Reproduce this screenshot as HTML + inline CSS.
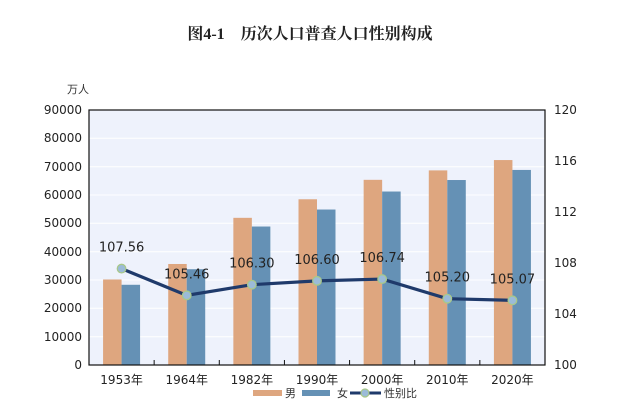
<!DOCTYPE html>
<html><head><meta charset="utf-8"><style>
html,body{margin:0;padding:0;background:#fff;width:621px;height:416px;overflow:hidden}
text{font-family:"DejaVu Sans","Liberation Sans","Noto Sans CJK SC",sans-serif}
</style></head><body>
<svg width="621" height="416" xmlns="http://www.w3.org/2000/svg">
<text x="310" y="39" text-anchor="middle" style="font-family:'Liberation Serif','Noto Serif CJK SC',serif;font-weight:bold" font-size="16" fill="#222">图4-1　历次人口普查人口性别构成</text>
<rect x="89" y="110" width="456" height="255" fill="#eef2fc"/>
<g stroke="#fff" stroke-width="1">
<line x1="89" x2="545" y1="138.3" y2="138.3"/><line x1="89" x2="545" y1="166.7" y2="166.7"/><line x1="89" x2="545" y1="195" y2="195"/><line x1="89" x2="545" y1="223.3" y2="223.3"/><line x1="89" x2="545" y1="251.7" y2="251.7"/><line x1="89" x2="545" y1="280" y2="280"/><line x1="89" x2="545" y1="308.3" y2="308.3"/><line x1="89" x2="545" y1="336.7" y2="336.7"/>
</g>
<g id="bars"></g>
<rect x="89" y="110" width="456" height="255" fill="none" stroke="#111" stroke-width="1.2"/>
<g font-size="12" fill="#222" text-anchor="end">
<text x="82" y="369">0</text><text x="82" y="341">10000</text><text x="82" y="312">20000</text><text x="82" y="284">30000</text><text x="82" y="256">40000</text><text x="82" y="227">50000</text><text x="82" y="199">60000</text><text x="82" y="171">70000</text><text x="82" y="142">80000</text><text x="82" y="114">90000</text>
</g>
<text x="67" y="93" font-size="11" fill="#333">万人</text>
<g font-size="12" fill="#222">
<text x="554" y="369">100</text><text x="554" y="318">104</text><text x="554" y="267">108</text><text x="554" y="216">112</text><text x="554" y="165">116</text><text x="554" y="114">120</text>
</g>
<g id="rest"></g>
<g font-size="11" fill="#333">
<rect x="253" y="390" width="29" height="6" fill="#dea67f"/><text x="285" y="397">男</text>
<rect x="302" y="390" width="28" height="6" fill="#6591b5"/><text x="337" y="397">女</text>
<line x1="350" x2="381" y1="393" y2="393" stroke="#1f3a6b" stroke-width="3"/>
<circle cx="365" cy="393" r="4" fill="#9bbbd8" stroke="#a8c88a" stroke-width="1.2"/><text x="384" y="397">性别比</text>
</g>
<script>
var d=[["1953",30180,28312,107.56],["1964",35652,33806,105.46],["1982",51944,48874,106.30],["1990",58495,54873,106.60],["2000",65355,61228,106.74],["2010",68685,65287,105.20],["2020",72334,68844,105.07]];
var ns="http://www.w3.org/2000/svg",b=document.getElementById("bars"),r=document.getElementById("rest");
function el(t,a,p,tx){var e=document.createElementNS(ns,t);for(var k in a)e.setAttribute(k,a[k]);if(tx)e.textContent=tx;p.appendChild(e);return e;}
var w=456/7,pts=[];
d.forEach(function(v,i){var c=89+w*(i+0.5);
var hm=v[1]*255/90000,hf=v[2]*255/90000;
el("rect",{x:c-18.5,y:365-hm,width:18.5,height:hm,fill:"#dea67f"},b);
el("rect",{x:c,y:365-hf,width:18.5,height:hf,fill:"#6591b5"},b);
if(i>0)el("line",{x1:89+w*i,x2:89+w*i,y1:365,y2:360,stroke:"#111"},r);
el("text",{x:c,y:384,"font-size":12,fill:"#222","text-anchor":"middle"},r,v[0]+"年");
var y=365-(v[3]-100)*12.75;pts.push([c,y]);});
el("polyline",{points:pts.map(function(p){return p.join(",")}).join(" "),fill:"none",stroke:"#1f3a6b","stroke-width":3.2},r);
pts.forEach(function(p,i){el("circle",{cx:p[0],cy:p[1],r:4.3,fill:"#9bbbd8",stroke:"#a8c88a","stroke-width":1.3},r);
el("text",{x:p[0],y:p[1]-17,"font-size":13,fill:"#222","text-anchor":"middle"},r,d[i][3].toFixed(2));});
</script>
</svg>
</body></html>
